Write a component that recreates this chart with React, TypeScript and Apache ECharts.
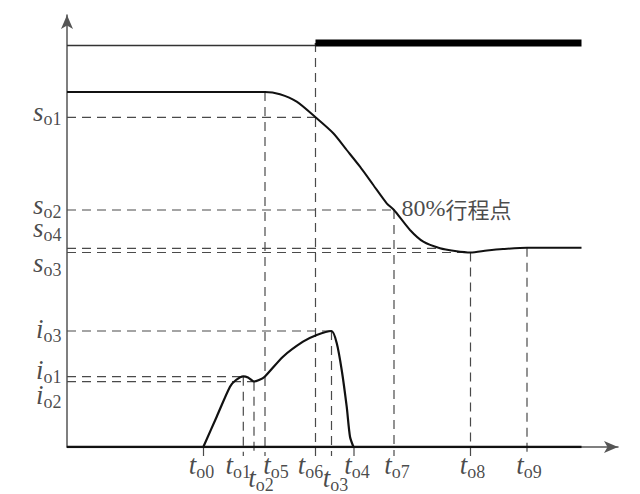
import React, { useEffect, useRef } from "react";
import * as echarts from "echarts";

// ---- data (x: time units from origin, y: level units above time axis) ----
const X_MAX = 551;
const Y_MAX = 432;

const signalLow = 401.5;
const signalHigh = 404;
const tSwitch = 248.5;
const tEnd = 514.5;

const tNames = ["o0", "o1", "o2", "o5", "o6", "o3", "o4", "o7", "o8", "o9"];
const tValues = [136.5, 176.3, 187, 198, 248.5, 264.5, 287, 327, 403.5, 460];
const tGuideTop = [0, 70.3, 65.3, 355, 404, 116, 0, 237, 194.5, 199.3];

const sNames = ["o1", "o2", "o4", "o3"];
const sValues = [329.7, 237, 198.7, 194.5];
const sGuideEnd = [248.5, 327, 373, 403.5];

const iNames = ["o3", "o1", "o2"];
const iValues = [116, 70.3, 65.3];
const iGuideEnd = [264.5, 176.3, 187];

const strokeT = [0, 198, 213, 229.7, 248.5, 266.3, 279.7, 293, 306.3, 319.7, 327, 343, 356.3, 373, 388, 403.5, 420, 436, 460, 514.5];
const strokeS = [355, 355, 352.7, 345.3, 329.7, 313.7, 297, 280.3, 262, 243.7, 237, 217, 205.3, 198.7, 196, 194.5, 196.5, 198, 199.3, 199.3];

const currentT = [136.3, 149.7, 163, 169, 176.3, 181, 187, 192, 197.7, 216, 236, 249.7, 264.5, 269.7, 274.7, 279.7, 283, 286.5];
const currentI = [0, 30.3, 60.3, 67, 70.7, 69.5, 65.5, 67, 70.3, 90.3, 105.3, 112, 116, 104, 77, 40.3, 10.3, 0];

const notePercent = "80%";
const noteWords = "行程点";
const noteIndex = 10; // the 80% travel point on the stroke curve

// ---- presentation ----
const SERIF = "Liberation Serif, Times New Roman, serif";
const CJK = "Noto Sans CJK SC, sans-serif";
const INK = "#1a1a1a";
const GUIDE = "#4a4a4a";

const tLabelNudge = [[-2, 18], [-5, 18], [7, 31], [11, 18], [-5, 18], [4, 31], [3, 18], [3, 18], [2, 18], [2, 18]];
const sLabelNudge = [-5, -5, -20, 10];
const iLabelNudge = [-2, -7, 13];

const rich = {
  v: { fontFamily: SERIF, fontStyle: "italic", fontSize: 27, lineHeight: 18, color: INK },
  sub: { fontFamily: SERIF, fontSize: 18, lineHeight: 18, color: INK, padding: [14, 0, 0, 0] },
};

function guide(points: number[][]) {
  return {
    type: "line",
    data: points,
    symbol: "none",
    silent: true,
    clip: false,
    z: 1,
    lineStyle: { color: GUIDE, width: 1.2, type: [9, 6] },
  };
}

function buildOption() {
  const series: any[] = [];

  sValues.forEach((v, k) => series.push(guide([[0, v], [sGuideEnd[k], v]])));
  iValues.forEach((v, k) => series.push(guide([[0, v], [iGuideEnd[k], v]])));
  tValues.forEach((t, k) => series.push(guide([[t, tGuideTop[k]], [t, -9]])));

  series.push({
    type: "line",
    data: [[0, signalLow], [tSwitch, signalLow], [tSwitch, signalHigh]],
    symbol: "none",
    silent: true,
    z: 3,
    lineStyle: { color: "#333", width: 1.5 },
  });
  series.push({
    type: "line",
    data: [[tSwitch, signalHigh], [tEnd, signalHigh]],
    symbol: "none",
    silent: true,
    z: 3,
    lineStyle: { color: "#000", width: 7, cap: "butt" },
  });

  series.push({
    type: "line",
    data: strokeT.map((t, k) => [t, strokeS[k]]),
    symbol: "none",
    smooth: 0.25,
    silent: true,
    z: 4,
    lineStyle: { color: "#111", width: 2 },
  });

  series.push({
    type: "line",
    data: [[0, 0], [tEnd, 0]],
    symbol: "none",
    silent: true,
    z: 4,
    lineStyle: { color: "#111", width: 2.6 },
  });
  series.push({
    type: "line",
    data: currentT.map((t, k) => [t, currentI[k]]),
    symbol: "none",
    smooth: 0.25,
    silent: true,
    z: 4,
    lineStyle: { color: "#111", width: 2.2 },
  });

  const labelPoints: any[] = [];
  sValues.forEach((v, k) =>
    labelPoints.push({
      value: [0, v],
      label: { position: "left", distance: 5, offset: [0, sLabelNudge[k]], formatter: `{v|s}{sub|${sNames[k]}}` },
    })
  );
  iValues.forEach((v, k) =>
    labelPoints.push({
      value: [0, v],
      label: { position: "left", distance: 5, offset: [0, iLabelNudge[k]], formatter: `{v|i}{sub|${iNames[k]}}` },
    })
  );
  tValues.forEach((t, k) =>
    labelPoints.push({
      value: [t, 0],
      label: { position: "inside", offset: tLabelNudge[k], formatter: `{v|t}{sub|${tNames[k]}}` },
    })
  );

  series.push({
    type: "scatter",
    data: labelPoints,
    symbolSize: 1,
    silent: true,
    z: 6,
    itemStyle: { color: "rgba(0,0,0,0)" },
    label: { show: true, rich },
  });

  series.push({
    type: "scatter",
    data: [{ value: [strokeT[noteIndex], strokeS[noteIndex]] }],
    symbolSize: 1,
    silent: true,
    z: 6,
    itemStyle: { color: "rgba(0,0,0,0)" },
    label: {
      show: true,
      position: "right",
      distance: 7,
      offset: [0, -2],
      formatter: `{n|${notePercent}}{c|${noteWords}}`,
      rich: {
        n: { fontFamily: SERIF, fontSize: 24, lineHeight: 24, color: INK },
        c: { fontFamily: CJK, fontSize: 22, lineHeight: 24, color: INK },
      },
    },
  });

  const axisLine = (symbolSize: number[]) => ({
    show: true,
    onZero: false,
    symbol: ["none", "arrow"],
    symbolSize,
    lineStyle: { color: "#555", width: 1.5 },
  });

  return {
    animation: false,
    backgroundColor: "#fff",
    grid: { left: 67, top: 15, right: 22, bottom: 47, containLabel: false },
    xAxis: {
      type: "value",
      min: 0,
      max: X_MAX,
      axisLine: axisLine([9, 14]),
      axisTick: { show: false },
      axisLabel: { show: false },
      splitLine: { show: false },
    },
    yAxis: {
      type: "value",
      min: 0,
      max: Y_MAX,
      axisLine: axisLine([9, 14]),
      axisTick: { show: false },
      axisLabel: { show: false },
      splitLine: { show: false },
    },
    series,
  };
}

export default function App() {
  const ref = useRef<HTMLDivElement>(null);
  useEffect(() => {
    if (!ref.current) return;
    const chart = echarts.init(ref.current, null, { renderer: "svg" });
    chart.setOption(buildOption() as any);
    return () => chart.dispose();
  }, []);
  return (
    <div
      ref={ref}
      style={{ position: "absolute", left: 0, top: 0, width: 640, height: 494, background: "#fff" }}
    />
  );
}
